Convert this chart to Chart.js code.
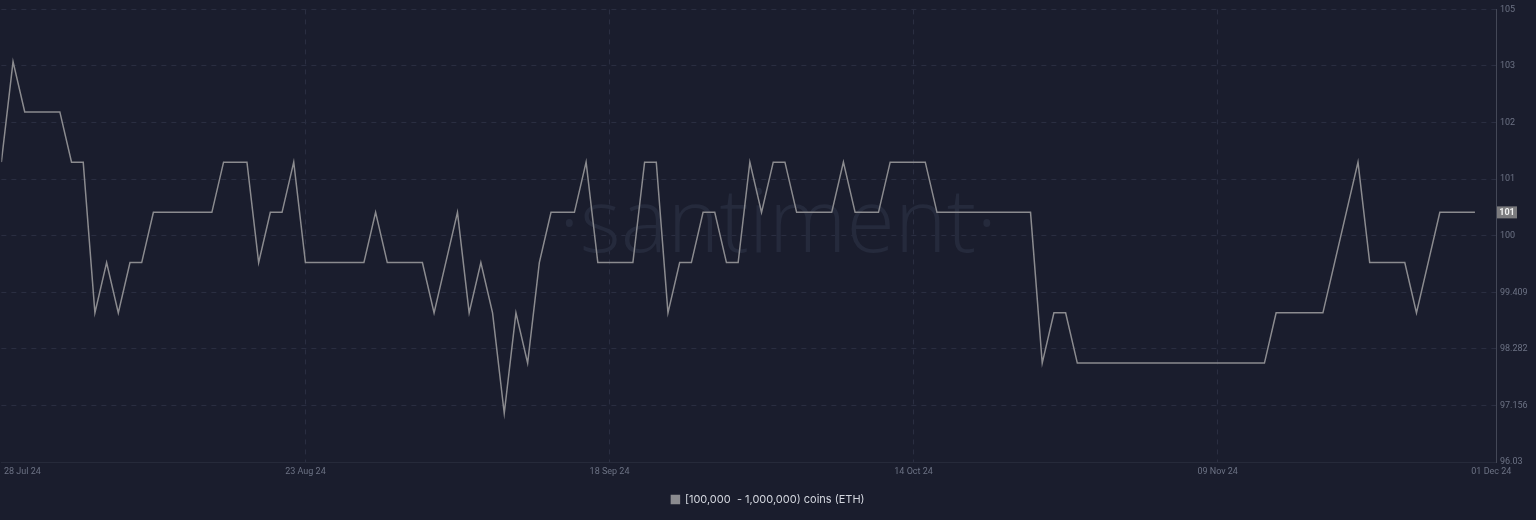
<!DOCTYPE html>
<html>
<head>
<meta charset="utf-8">
<script src="https://cdn.jsdelivr.net/npm/chart.js@4"></script>
<style>
  html, body { margin: 0; padding: 0; background: #1a1d2d; }
  #wrap { width: 1536px; height: 520px; }
</style>
</head>
<body>
<div id="wrap"><canvas id="whaleChart"></canvas></div>
<script>
// daily holder count, 28 Jul 24 .. 01 Dec 24
const seriesName = '[100,000  - 1,000,000) coins (ETH)';
const holders = [
  102, 104, 103, 103, 103, 103, 102, 102, 99, 100,
  99, 100, 100, 101, 101, 101, 101, 101, 101, 102,
  102, 102, 100, 101, 101, 102, 100, 100, 100, 100,
  100, 100, 101, 100, 100, 100, 100, 99, 100, 101,
  99, 100, 99, 97, 99, 98, 100, 101, 101, 101,
  102, 100, 100, 100, 100, 102, 102, 99, 100, 100,
  101, 101, 100, 100, 102, 101, 102, 102, 101, 101,
  101, 101, 102, 101, 101, 101, 102, 102, 102, 102,
  101, 101, 101, 101, 101, 101, 101, 101, 101, 98,
  99, 99, 98, 98, 98, 98, 98, 98, 98, 98,
  98, 98, 98, 98, 98, 98, 98, 98, 98, 99,
  99, 99, 99, 99, 100, 101, 102, 100, 100, 100,
  100, 99, 100, 101, 101, 101, 101
];

// x ticks (day index from 28 Jul 24)
const xTickDays = [1.8, 26, 52, 78, 104, 127.4];
const xTickLabels = ['28 Jul 24', '23 Aug 24', '18 Sep 24', '14 Oct 24', '09 Nov 24', '01 Dec 24'];

const yTickValues = [96.03, 97.156, 98.282, 99.409, 100.535, 101.662, 102.788, 103.915, 105.041];
const yTickLabels = ['96.03', '97.156', '98.282', '99.409', '100', '101', '102', '103', '105'];

const tickColor = '#6c7284';
const gridColor = '#2a2e41';

const watermark = {
  id: 'watermark',
  beforeDatasetsDraw(chart) {
    const {ctx, chartArea} = chart;
    ctx.save();
    ctx.font = '300 88px "Open Sans"';
    ctx.fillStyle = '#252a3c';
    ctx.textAlign = 'center';
    ctx.textBaseline = 'alphabetic';
    ctx.fillText('\u00b7santiment\u00b7', 778, 252);
    ctx.restore();
  }
};

const lastBadge = {
  id: 'lastBadge',
  afterDraw(chart) {
    const {ctx} = chart;
    const y = chart.scales.y.getPixelForValue(holders[holders.length - 1]);
    const x = chart.scales.y.left + 1;
    ctx.save();
    ctx.fillStyle = '#7b7b7e';
    ctx.fillRect(x, y - 6, 20, 12);
    ctx.fillStyle = '#f0f0f0';
    ctx.font = 'bold 9px Roboto';
    ctx.textAlign = 'center';
    ctx.textBaseline = 'middle';
    ctx.fillText(String(holders[holders.length - 1]), x + 10, y + 0.5);
    ctx.restore();
  }
};

new Chart(document.getElementById('whaleChart'), {
  type: 'line',
  data: {
    datasets: [{
      label: seriesName,
      data: holders.map((v, i) => ({x: i, y: v})),
      borderColor: '#8b8b8f',
      backgroundColor: '#8b8b8f',
      borderWidth: 1.5,
      pointRadius: 0,
      tension: 0
    }]
  },
  options: {
    responsive: true,
    maintainAspectRatio: false,
    animation: false,
    layout: { padding: { top: 5, left: 0, right: 0, bottom: 5 } },
    plugins: {
      legend: {
        position: 'bottom',
        labels: {
          boxWidth: 8, boxHeight: 8, padding: 10,
          color: '#d3d6de',
          font: { family: 'Inter', size: 11 }
        }
      },
      tooltip: { enabled: false }
    },
    scales: {
      x: {
        type: 'linear',
        min: 0,
        max: 127.8,
        afterBuildTicks: (s) => { s.ticks = xTickDays.map(v => ({value: v})); },
        afterFit: (s) => { s.height = 22; },
        ticks: {
          autoSkip: false,
          maxRotation: 0,
          padding: 4,
          color: tickColor,
          font: { family: 'Roboto', size: 9 },
          callback: (v, i) => xTickLabels[i]
        },
        grid: {
          drawTicks: false,
          color: (c) => (c.index > 0 && c.index < xTickDays.length - 1) ? gridColor : 'transparent'
        },
        border: { display: true, color: '#262a3a', dash: [5, 5] }
      },
      y: {
        position: 'right',
        min: 96.03,
        max: 105.041,
        afterBuildTicks: (s) => { s.ticks = yTickValues.map(v => ({value: v})); },
        afterFit: (s) => { s.width = 40; },
        ticks: {
          padding: 4,
          color: tickColor,
          font: { family: 'Roboto', size: 9 },
          callback: (v, i) => yTickLabels[i]
        },
        grid: {
          drawTicks: false,
          color: gridColor
        },
        border: { display: true, color: '#444857', dash: [5, 5] }
      }
    }
  },
  plugins: [watermark, lastBadge]
});
</script>
</body>
</html>
